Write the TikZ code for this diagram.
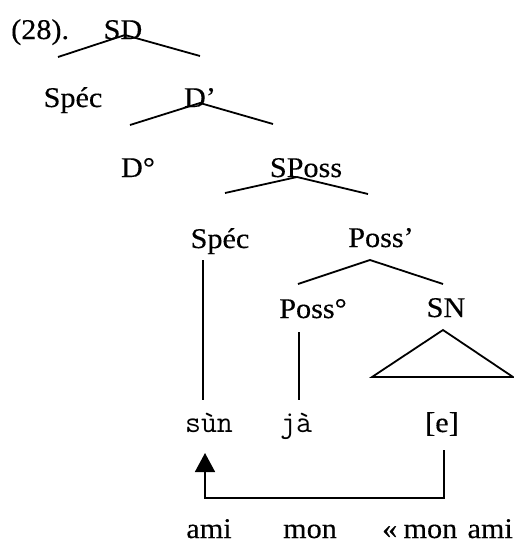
\documentclass[tikz,border=0pt]{standalone}
\usepackage{fontspec}
\setmainfont{Liberation Serif}[FakeStretch=1.06,FakeBold=0.3]
\usetikzlibrary{arrows.meta}
\begin{document}
\begin{tikzpicture}[x=1pt,y=-1pt,
  lab/.style={anchor=base,inner sep=0pt,font=\fontsize{28.5}{32}\selectfont},
  word/.style={anchor=base,inner sep=0pt,font=\fontsize{31}{35}\selectfont\ttfamily},
  branch/.style={line width=1.8pt},
  move/.style={line width=1.6pt,-{Triangle[width=20pt,length=19pt]}},
  ]
\clip (0,0) rectangle (514,547);

% labels of the tree
\node[lab,anchor=base west] (num) at (11,39) {(28).};
\node[lab] (SD) at (123,39) {SD};
\node[lab] (SpecA) at (73,107) {Spéc};
\node[lab] (Dbar) at (200,107) {D’};
\node[lab] (Dzero) at (138,177) {D°};
\node[lab] (SPoss) at (306,177) {SPoss};
\node[lab] (SpecB) at (220,248) {Spéc};
\node[lab] (Possbar) at (381,247) {Poss’};
\node[lab] (Posszero) at (313,318) {Poss°};
\node[lab] (SN) at (446,317) {SN};

% terminal words
\node[word] (sun) at (209,432) {sùn};
\node[word] (ja) at (296,432) {jà};
\node[lab] (e) at (442,432) {[e]};

% glosses
\node[lab] (gAmi) at (209,538) {ami};
\node[lab] (gMon) at (310,538) {mon};
\node[lab,anchor=base west] (gTrans) at (382,538) {«\hspace{0.22em}mon\hspace{0.36em}ami};

% branch points
\coordinate (sdTop) at (125,35);
\coordinate (sdL) at (58,57);
\coordinate (sdR) at (200,56);
\coordinate (dTop) at (200,103);
\coordinate (dL) at (130,125);
\coordinate (dR) at (273,124);
\coordinate (spTop) at (297,177);
\coordinate (spL) at (225,193);
\coordinate (spR) at (368,194);
\coordinate (pTop) at (370,260);
\coordinate (pL) at (298,284);
\coordinate (pR) at (443,284);
\coordinate (snTop) at (443,330);
\coordinate (snL) at (372,377);
\coordinate (snR) at (513,377);
\coordinate (specLow) at (203,260);
\coordinate (specEnd) at (203,400);
\coordinate (pzLow) at (299,332);
\coordinate (pzEnd) at (299,400);
\coordinate (eLow) at (444,450);
\coordinate (turnR) at (444,498);
\coordinate (turnL) at (205,498);
\coordinate (tip) at (205,453);

% branches
\draw[branch] (sdL) -- (sdTop) -- (sdR);
\draw[branch] (dL) -- (dTop) -- (dR);
\draw[branch] (spL) -- (spTop) -- (spR);
\draw[branch] (pL) -- (pTop) -- (pR);
\draw[branch,line join=miter] (snL) -- (snTop) -- (snR) -- cycle;
\draw[line width=1.3pt] (specLow) -- (specEnd);
\draw[line width=1.3pt] (pzLow) -- (pzEnd);

% movement arrow from the gap back to the possessor
\draw[move] (eLow) -- (turnR) -- (turnL) -- (tip);
\end{tikzpicture}
\end{document}
